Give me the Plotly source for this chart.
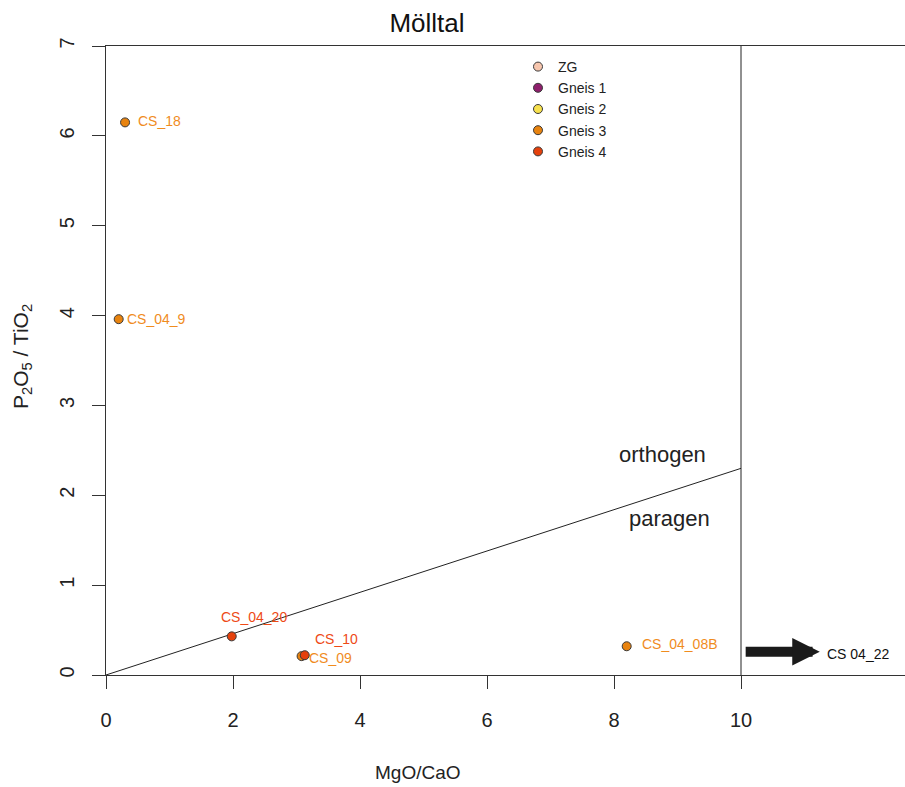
import plotly.graph_objects as go

# ---- data ----
groups = ["ZG", "Gneis 1", "Gneis 2", "Gneis 3", "Gneis 4"]
group_colors = ["#F7C6AE", "#8E1F6C", "#F7E14E", "#E8830F", "#E5410C"]
label_colors = {"Gneis 3": "#F08C1E", "Gneis 4": "#EE4A16"}

samples = ["CS_18", "CS_04_9", "CS_04_20", "CS_10", "CS_09", "CS_04_08B"]
sample_group = ["Gneis 3", "Gneis 3", "Gneis 4", "Gneis 4", "Gneis 3", "Gneis 3"]
mgo_cao = [0.30, 0.20, 1.98, 3.13, 3.08, 8.20]
p2o5_tio2 = [6.15, 3.96, 0.43, 0.22, 0.21, 0.32]

offscale_label = "CS 04_22"
offscale_y = 0.26

divider_x = [0, 10]
divider_y = [0, 2.3]
x_ticks = [0, 2, 4, 6, 8, 10]
y_ticks = [0, 1, 2, 3, 4, 5, 6, 7]

# label placement (style): xshift, yshift, anchor
label_style = {
    "CS_18": (11, 1, "left"),
    "CS_04_9": (6, 0, "left"),
    "CS_04_20": (-13, 19, "left"),
    "CS_10": (8, 16, "left"),
    "CS_09": (5, -2, "left"),
    "CS_04_08B": (13, 2, "left"),
}

fig = go.Figure()

# divider line and x=10 line
fig.add_trace(go.Scatter(x=divider_x, y=divider_y, mode="lines",
                         line=dict(color="#222", width=1), showlegend=False, hoverinfo="skip"))
fig.add_trace(go.Scatter(x=[10, 10], y=[0, 7], mode="lines",
                         line=dict(color="#222", width=1), showlegend=False, hoverinfo="skip"))

for g, c in zip(groups, group_colors):
    xs = [x for x, sg in zip(mgo_cao, sample_group) if sg == g]
    ys = [y for y, sg in zip(p2o5_tio2, sample_group) if sg == g]
    if not xs:
        xs, ys = [None], [None]
    fig.add_trace(go.Scatter(
        x=xs, y=ys, mode="markers", name=g,
        marker=dict(color=c, size=9, line=dict(color="#3a3a3a", width=1)),
    ))

annotations = []
for s, g, x, y in zip(samples, sample_group, mgo_cao, p2o5_tio2):
    dx, dy, anc = label_style[s]
    annotations.append(dict(x=x, y=y, text=s, showarrow=False, xanchor=anc,
                            xshift=dx, yshift=dy,
                            font=dict(size=14, color=label_colors[g])))

# off-scale arrow
annotations.append(dict(x=11.24, y=offscale_y, ax=10.05, ay=offscale_y, axref="x", ayref="y",
                        text="", showarrow=True, arrowhead=2, arrowsize=0.55, arrowwidth=10,
                        arrowcolor="#1a1a1a"))
annotations.append(dict(x=11.33, y=offscale_y, text=offscale_label, showarrow=False,
                        xanchor="left", yshift=-2, font=dict(size=14, color="#111")))

annotations.append(dict(x=8.77, y=2.45, text="orthogen", showarrow=False,
                        xanchor="center", yanchor="middle",
                        font=dict(size=22, color="#222")))
annotations.append(dict(x=8.88, y=1.74, text="paragen", showarrow=False,
                        xanchor="center", yanchor="middle",
                        font=dict(size=22, color="#222")))

# axis titles
annotations.append(dict(x=(418 - 106) / 799, y=(675 - 772) / 629, xref="paper", yref="paper",
                        xanchor="center", yanchor="middle",
                        text="MgO/CaO", showarrow=False, font=dict(size=19, color="#222")))
annotations.append(dict(x=(22 - 106) / 799, y=(675 - 357) / 629, xref="paper", yref="paper",
                        xanchor="center", yanchor="middle",
                        text="P<sub>2</sub>O<sub>5</sub> / TiO<sub>2</sub>", textangle=-90,
                        showarrow=False, font=dict(size=21, color="#222")))

fig.update_layout(
    width=905, height=787,
    margin=dict(l=106, r=0, t=46, b=112, autoexpand=False),
    plot_bgcolor="white", paper_bgcolor="white",
    font=dict(family="Liberation Sans, Arial, sans-serif", color="#222"),
    title=dict(text="Mölltal", x=(427 - 106) / 799, xref="paper", y=1 - 23 / 787, yref="container",
               xanchor="center", yanchor="middle", font=dict(size=26, color="#111")),
    annotations=annotations,
    legend=dict(x=(518 - 106) / 799, y=(675 - 51) / 629, xanchor="left", yanchor="top",
                font=dict(size=14, color="#222"), bgcolor="rgba(0,0,0,0)", itemwidth=30),
    showlegend=True,
)
fig.update_xaxes(range=[0, 799 / 63.5], tickvals=x_ticks, showgrid=False, zeroline=False,
                 showline=True, linecolor="#333", linewidth=1, mirror=True, automargin=False,
                 ticks="outside", ticklen=13, tickcolor="#333",
                 tickfont=dict(size=20, color="#222"), ticklabelstandoff=14)
fig.update_yaxes(range=[0, 7], tickvals=y_ticks, showgrid=False, zeroline=False,
                 showline=True, linecolor="#333", linewidth=1, mirror=False, automargin=False,
                 ticks="outside", ticklen=13, tickcolor="#333", tickangle=-90,
                 tickfont=dict(size=20, color="#222"), ticklabelstandoff=10)

fig.write_html("out.html", config={"displayModeBar": False},
               post_script="document.body.style.margin='0';")
